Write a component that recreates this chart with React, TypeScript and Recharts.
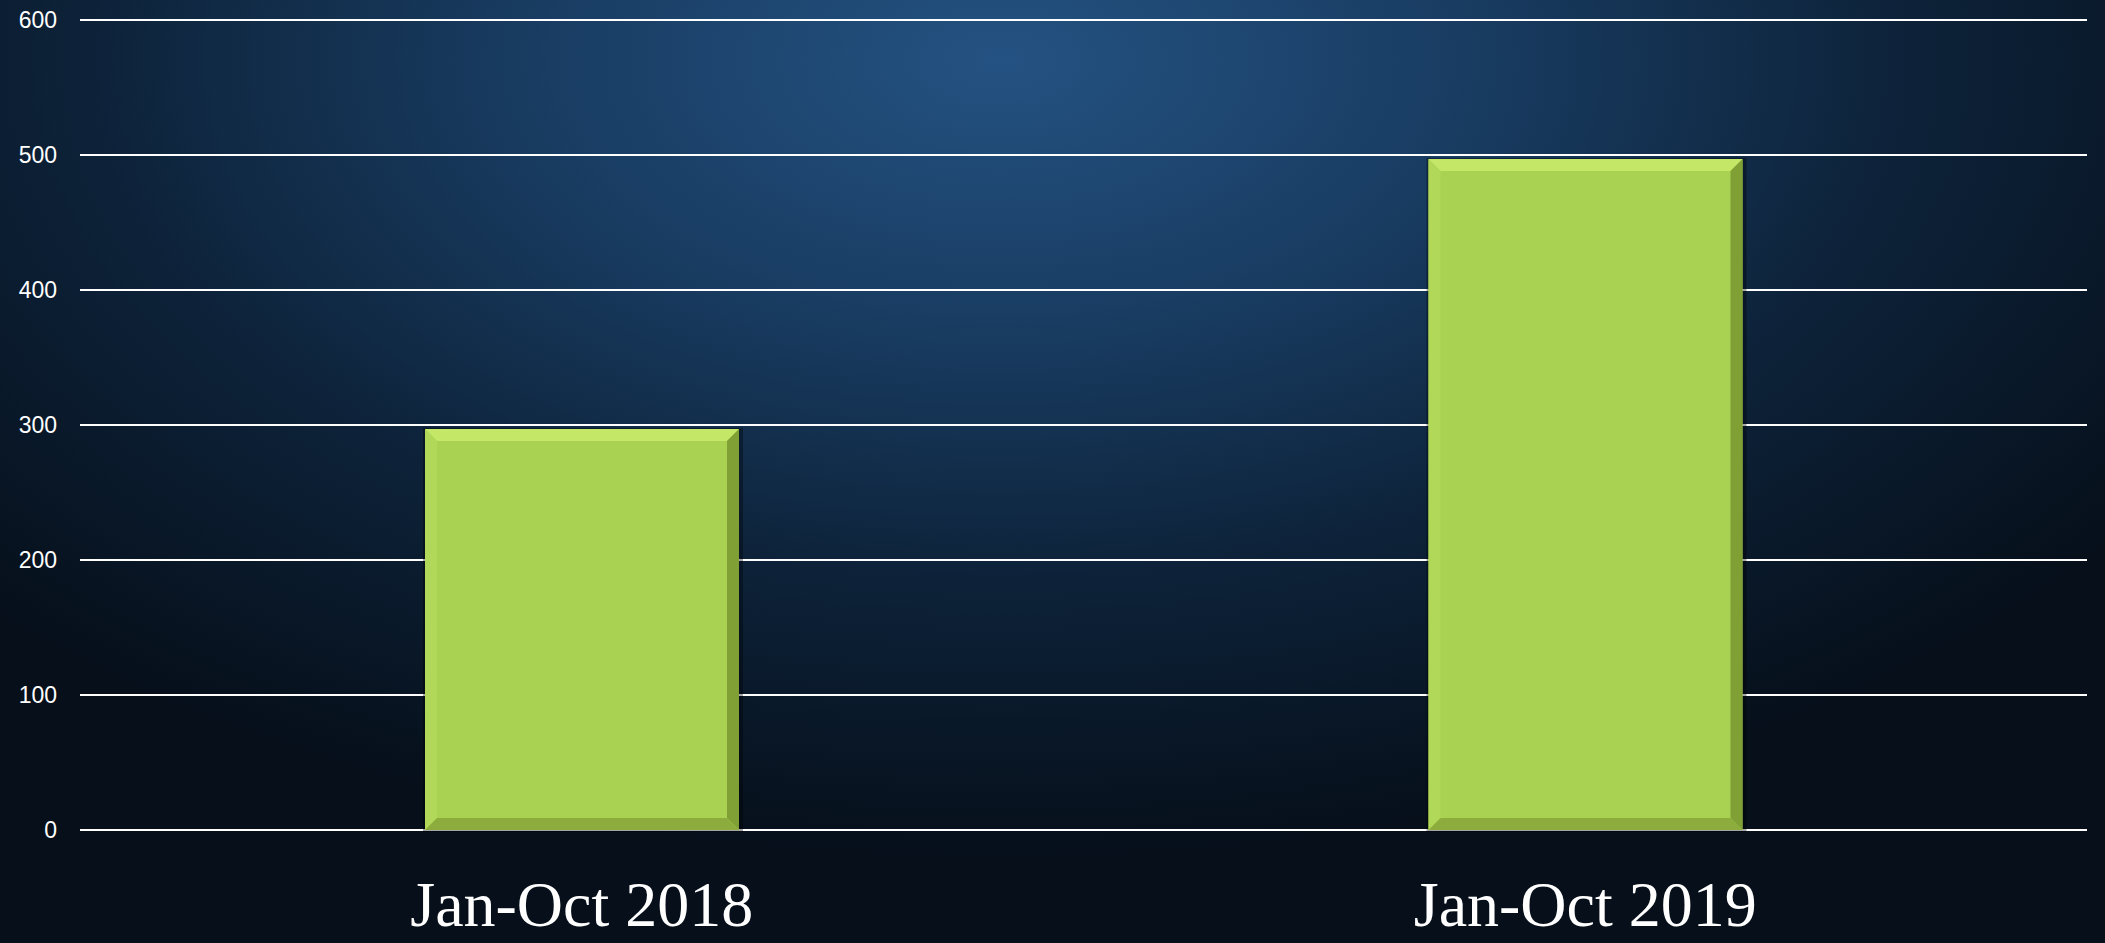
import { BarChart, Bar, XAxis, YAxis, CartesianGrid } from 'recharts'

const periods = ['Jan-Oct 2018', 'Jan-Oct 2019']
const totals = [297, 497]
const yTicks = [0, 100, 200, 300, 400, 500, 600]

const data = periods.map((p, i) => ({ period: p, total: totals[i] }))

const BevelBar = (props: any) => {
  const { x, y, width, height } = props
  if (!height || height <= 0) return null
  const b = 12
  const r = x + width
  const btm = y + height
  return (
    <g>
      <rect x={x - 2} y={y - 1} width={width + 6} height={height + 3} fill="rgba(0,0,0,0.35)" />
      <rect x={x} y={y} width={width} height={height} fill="#a9d152" />
      <polygon points={`${x},${y} ${r},${y} ${r - b},${y + b} ${x + b},${y + b}`} fill="#c4e768" />
      <polygon points={`${x},${y} ${x + b},${y + b} ${x + b},${btm - b} ${x},${btm}`} fill="#b1d859" />
      <polygon points={`${r},${y} ${r},${btm} ${r - b},${btm - b} ${r - b},${y + b}`} fill="#80a036" />
      <polygon points={`${x},${btm} ${x + b},${btm - b} ${r - b},${btm - b} ${r},${btm}`} fill="#8cad3e" />
    </g>
  )
}

const PeriodTick = (props: any) => {
  const { x, y, payload } = props
  return (
    <text x={x} y={y + 88} textAnchor="middle" fill="#ffffff" fontSize={64} fontFamily="'Liberation Serif', serif">
      {payload.value}
    </text>
  )
}

export default function App() {
  return (
    <div
      style={{
        position: 'absolute',
        left: 0,
        top: 0,
        width: 2105,
        height: 943,
        background:
          'radial-gradient(ellipse 1400px 800px at 1000px 60px, #245282 0%, #183b60 35%, #0d2239 65%, #060f1a 100%)',
      }}
    >
      <BarChart width={2105} height={943} data={data} margin={{ top: 20, right: 18, left: 0, bottom: 0 }} barCategoryGap={0}>
        <CartesianGrid vertical={false} stroke="#ffffff" strokeWidth={2} />
        <XAxis dataKey="period" height={113} axisLine={false} tickLine={false} tick={<PeriodTick />} interval={0} />
        <YAxis
          width={80}
          domain={[0, 600]}
          ticks={yTicks}
          axisLine={false}
          tickLine={false}
          tickSize={0}
          tickMargin={23}
          tick={{ fill: '#ffffff', fontSize: 23, fontFamily: 'Liberation Sans, Arial, sans-serif' }}
        />
        <Bar dataKey="total" barSize={314} shape={<BevelBar />} isAnimationActive={false} />
      </BarChart>
    </div>
  )
}
